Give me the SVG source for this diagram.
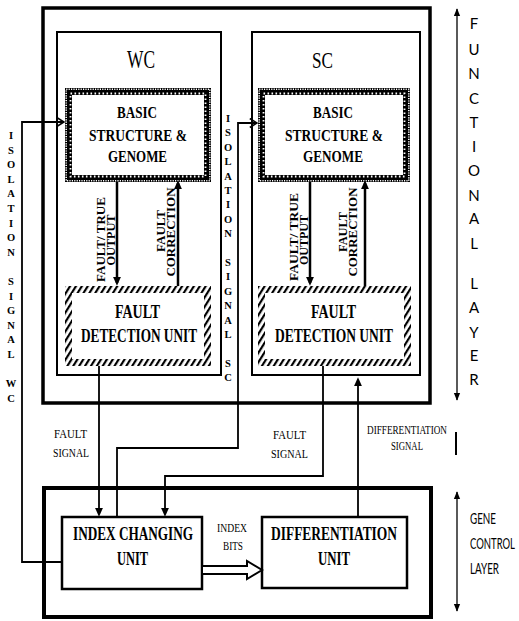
<svg xmlns="http://www.w3.org/2000/svg" width="519" height="621" viewBox="0 0 519 621">
<style>
.thick{fill:none;stroke:#000;stroke-width:3.5}
.cell{fill:none;stroke:#000;stroke-width:2}
.unit{fill:#fff;stroke:#000;stroke-width:2.5}
.ln{fill:none;stroke:#000;stroke-width:1.8}
.arr{fill:none;stroke:#000;stroke-width:2.5}
.thin{fill:none;stroke:#000;stroke-width:1.3}
.tb{font-family:"Liberation Serif","Times New Roman",serif;font-weight:bold;text-anchor:middle;fill:#000}
.tn{font-family:"Liberation Serif","Times New Roman",serif;text-anchor:middle;fill:#000}
.iso{font-family:"Liberation Serif","Times New Roman",serif;font-weight:bold;font-size:10.5px;text-anchor:middle;fill:#000}
.sans{font-family:Lato,"Open Sans",sans-serif;fill:#000}
</style>
<defs>
<marker id="ah" viewBox="0 0 10 10" markerWidth="9" markerHeight="9" refX="7" refY="5" orient="auto" markerUnits="userSpaceOnUse"><path d="M0,0.5 L10,5 L0,9.5 z" fill="#000"/></marker>
<marker id="oa" viewBox="0 0 10 12" markerWidth="9" markerHeight="11" refX="9" refY="6" orient="auto" markerUnits="userSpaceOnUse"><path d="M1,1 L9,6 L1,11" fill="none" stroke="#000" stroke-width="1.8"/></marker>
<marker id="sm" viewBox="0 0 10 10" markerWidth="8" markerHeight="9" refX="9" refY="5" orient="auto-start-reverse" markerUnits="userSpaceOnUse"><path d="M0,1 L10,5 L0,9 z" fill="#000"/></marker>
<pattern id="hatch" width="5" height="5" patternUnits="userSpaceOnUse" patternTransform="rotate(32)"><rect x="0" y="0" width="2.2" height="5" fill="#000"/></pattern>
</defs>

<g id="functional-layer"><rect class="thick" x="43" y="8" width="387" height="395"/></g>
<g id="gene-control-layer"><rect class="thick" x="44" y="488" width="387" height="129" style="stroke-width:4"/></g>

<g id="wc">
<rect class="cell" x="57" y="32" width="164" height="343"/>
<text class="tn" transform="translate(141,68) scale(1,1.4)" font-size="17.4" textLength="28" lengthAdjust="spacingAndGlyphs">WC</text>
</g>
<g id="sc">
<rect class="cell" x="252" y="32" width="168" height="343"/>
<text class="tn" transform="translate(322.5,68) scale(1,1.4)" font-size="17.2" textLength="21" lengthAdjust="spacingAndGlyphs">SC</text>
</g>

<g id="wc-basic">
<rect x="68.5" y="91.5" width="139" height="87" fill="#fff" stroke="#000" stroke-width="7"/>
<rect x="66.2" y="89.2" width="143.6" height="91.6" fill="none" stroke="#fff" stroke-width="1.6" stroke-dasharray="1.2 1.2"/>
<rect x="70.5" y="93.5" width="135" height="83" fill="none" stroke="#fff" stroke-width="1.8" stroke-dasharray="1.6 2.4"/>
<text class="tb" transform="translate(137,118) scale(1,1.3)" font-size="13.5" textLength="40" lengthAdjust="spacingAndGlyphs">BASIC</text>
<text class="tb" transform="translate(138,141) scale(1,1.3)" font-size="13.5" textLength="98" lengthAdjust="spacingAndGlyphs">STRUCTURE &amp;</text>
<text class="tb" transform="translate(137.5,162) scale(1,1.3)" font-size="13.5" textLength="59" lengthAdjust="spacingAndGlyphs">GENOME</text>
</g>
<g id="sc-basic">
<rect x="261.5" y="91.5" width="145" height="87" fill="#fff" stroke="#000" stroke-width="7"/>
<rect x="259.2" y="89.2" width="149.6" height="91.6" fill="none" stroke="#fff" stroke-width="1.6" stroke-dasharray="1.2 1.2"/>
<rect x="263.5" y="93.5" width="141" height="83" fill="none" stroke="#fff" stroke-width="1.8" stroke-dasharray="1.6 2.4"/>
<text class="tb" transform="translate(333,118) scale(1,1.3)" font-size="13.5" textLength="40" lengthAdjust="spacingAndGlyphs">BASIC</text>
<text class="tb" transform="translate(334,141) scale(1,1.3)" font-size="13.5" textLength="98" lengthAdjust="spacingAndGlyphs">STRUCTURE &amp;</text>
<text class="tb" transform="translate(333,162) scale(1,1.3)" font-size="13.5" textLength="60" lengthAdjust="spacingAndGlyphs">GENOME</text>
</g>

<g id="wc-fault-detection">
<path d="M65,286h146v80h-146z M72,293h132v66h-132z" fill="url(#hatch)" fill-rule="evenodd"/>
<text class="tb" transform="translate(137.5,318) scale(1,1.4)" font-size="13" textLength="45" lengthAdjust="spacingAndGlyphs">FAULT</text>
<text class="tb" transform="translate(139,342) scale(1,1.4)" font-size="13" textLength="116" lengthAdjust="spacingAndGlyphs">DETECTION UNIT</text>
</g>
<g id="sc-fault-detection">
<path d="M258,286h153v80h-153z M265,293h139v66h-139z" fill="url(#hatch)" fill-rule="evenodd"/>
<text class="tb" transform="translate(333.5,318) scale(1,1.4)" font-size="13" textLength="45" lengthAdjust="spacingAndGlyphs">FAULT</text>
<text class="tb" transform="translate(334,342) scale(1,1.4)" font-size="13" textLength="118" lengthAdjust="spacingAndGlyphs">DETECTION UNIT</text>
</g>

<g id="index-changing-unit">
<rect class="unit" x="62" y="517" width="140" height="72"/>
<text class="tb" transform="translate(133,540) scale(1,1.4)" font-size="13" textLength="120" lengthAdjust="spacingAndGlyphs">INDEX CHANGING</text>
<text class="tb" transform="translate(132.5,565) scale(1,1.4)" font-size="13" textLength="31" lengthAdjust="spacingAndGlyphs">UNIT</text>
</g>
<g id="differentiation-unit">
<rect class="unit" x="262" y="517" width="145" height="71"/>
<text class="tb" transform="translate(334,540) scale(1,1.4)" font-size="13" textLength="126" lengthAdjust="spacingAndGlyphs">DIFFERENTIATION</text>
<text class="tb" transform="translate(334,565) scale(1,1.4)" font-size="13" textLength="32" lengthAdjust="spacingAndGlyphs">UNIT</text>
</g>

<g id="connectors">
<line class="arr" x1="117" y1="182" x2="117" y2="283" marker-end="url(#ah)"/>
<line class="arr" x1="178" y1="286" x2="178" y2="183" marker-end="url(#ah)"/>
<line class="arr" x1="310" y1="182" x2="310" y2="283" marker-end="url(#ah)"/>
<line class="arr" x1="365" y1="286" x2="365" y2="183" marker-end="url(#ah)"/>
<polyline class="ln" points="62,562 22,562 22,122 64,122" marker-end="url(#oa)"/>
<polyline class="ln" points="117,517 117,448 238,448 238,123 257,123" marker-end="url(#oa)"/>
<line class="ln" x1="99" y1="366" x2="99" y2="514" marker-end="url(#ah)"/>
<polyline class="ln" points="323,366 323,476 165,476 165,514" marker-end="url(#ah)"/>
<line class="ln" x1="358" y1="517" x2="358" y2="380" marker-end="url(#ah)"/>
<polygon points="202,566 247,566 247,561 262,570 247,579 247,574 202,574" fill="#fff" stroke="#000" stroke-width="2"/>
<line class="thin" x1="457" y1="9" x2="457" y2="400" marker-start="url(#sm)" marker-end="url(#sm)"/>
<line class="thin" x1="457" y1="492" x2="457" y2="611" marker-start="url(#sm)" marker-end="url(#sm)"/>
<line x1="456" y1="432" x2="456" y2="455" stroke="#000" stroke-width="2"/>
</g>

<g id="labels">
<text class="tb" font-size="12" transform="translate(105,239.5) rotate(-90)" textLength="85" lengthAdjust="spacingAndGlyphs">FAULT/ TRUE</text>
<text class="tb" font-size="12" transform="translate(115,240) rotate(-90)" textLength="51" lengthAdjust="spacingAndGlyphs">OUTPUT</text>
<text class="tb" font-size="12" transform="translate(165,231) rotate(-90)" textLength="42" lengthAdjust="spacingAndGlyphs">FAULT</text>
<text class="tb" font-size="12" transform="translate(175,232) rotate(-90)" textLength="89" lengthAdjust="spacingAndGlyphs">CORRECTION</text>
<text class="tb" font-size="12" transform="translate(298,237) rotate(-90)" textLength="88" lengthAdjust="spacingAndGlyphs">FAULT/ TRUE</text>
<text class="tb" font-size="12" transform="translate(308,240) rotate(-90)" textLength="50" lengthAdjust="spacingAndGlyphs">OUTPUT</text>
<text class="tb" font-size="12" transform="translate(347,232) rotate(-90)" textLength="40" lengthAdjust="spacingAndGlyphs">FAULT</text>
<text class="tb" font-size="12" transform="translate(357,232) rotate(-90)" textLength="89" lengthAdjust="spacingAndGlyphs">CORRECTION</text>

<text class="iso"><tspan x="11" y="139">I</tspan><tspan x="11" y="153.6">S</tspan><tspan x="11" y="168.2">O</tspan><tspan x="11" y="182.8">L</tspan><tspan x="11" y="197.4">A</tspan><tspan x="11" y="212">T</tspan><tspan x="11" y="226.6">I</tspan><tspan x="11" y="241.2">O</tspan><tspan x="11" y="255.8">N</tspan><tspan x="11" y="285">S</tspan><tspan x="11" y="299.6">I</tspan><tspan x="11" y="314.2">G</tspan><tspan x="11" y="328.8">N</tspan><tspan x="11" y="343.4">A</tspan><tspan x="11" y="358">L</tspan><tspan x="11" y="387.2">W</tspan><tspan x="11" y="401.8">C</tspan></text>
<text class="iso"><tspan x="228" y="122">I</tspan><tspan x="228" y="136.4">S</tspan><tspan x="228" y="150.8">O</tspan><tspan x="228" y="165.2">L</tspan><tspan x="228" y="179.6">A</tspan><tspan x="228" y="194">T</tspan><tspan x="228" y="208.4">I</tspan><tspan x="228" y="222.8">O</tspan><tspan x="228" y="237.2">N</tspan><tspan x="228" y="266">S</tspan><tspan x="228" y="280.4">I</tspan><tspan x="228" y="294.8">G</tspan><tspan x="228" y="309.2">N</tspan><tspan x="228" y="323.6">A</tspan><tspan x="228" y="338">L</tspan><tspan x="228" y="366.8">S</tspan><tspan x="228" y="381.2">C</tspan></text>

<text class="tn" transform="translate(70.5,438) scale(1,1.35)" font-size="10" textLength="33" lengthAdjust="spacingAndGlyphs">FAULT</text>
<text class="tn" transform="translate(71,457) scale(1,1.35)" font-size="10" textLength="36" lengthAdjust="spacingAndGlyphs">SIGNAL</text>
<text class="tn" transform="translate(289.5,439) scale(1,1.35)" font-size="10" textLength="33" lengthAdjust="spacingAndGlyphs">FAULT</text>
<text class="tn" transform="translate(289.5,458) scale(1,1.35)" font-size="10" textLength="37" lengthAdjust="spacingAndGlyphs">SIGNAL</text>
<text class="tn" transform="translate(407,434) scale(1,1.35)" font-size="9" textLength="80" lengthAdjust="spacingAndGlyphs">DIFFERENTIATION</text>
<text class="tn" transform="translate(407,450) scale(1,1.35)" font-size="9" textLength="32" lengthAdjust="spacingAndGlyphs">SIGNAL</text>
<text class="tn" transform="translate(232,532) scale(1,1.3)" font-size="9.5" textLength="30" lengthAdjust="spacingAndGlyphs">INDEX</text>
<text class="tn" transform="translate(233,550) scale(1,1.3)" font-size="9.5" textLength="20" lengthAdjust="spacingAndGlyphs">BITS</text>

<text class="sans" font-size="15" text-anchor="middle"><tspan x="474" y="28.5">F</tspan><tspan x="474" y="54.5">U</tspan><tspan x="474" y="78.5">N</tspan><tspan x="474" y="103.5">C</tspan><tspan x="474" y="127.5">T</tspan><tspan x="474" y="151.5">I</tspan><tspan x="474" y="175.5">O</tspan><tspan x="474" y="200.5">N</tspan><tspan x="474" y="223.5">A</tspan><tspan x="474" y="248.5">L</tspan><tspan x="474" y="288.5">L</tspan><tspan x="474" y="312.5">A</tspan><tspan x="474" y="337.5">Y</tspan><tspan x="474" y="360.5">E</tspan><tspan x="474" y="384.5">R</tspan></text>
<text class="sans" transform="translate(470,524) scale(1,1.55)" font-size="9.5" textLength="26" lengthAdjust="spacingAndGlyphs">GENE</text>
<text class="sans" transform="translate(470,549) scale(1,1.55)" font-size="9.5" textLength="45" lengthAdjust="spacingAndGlyphs">CONTROL</text>
<text class="sans" transform="translate(470,574) scale(1,1.55)" font-size="9.5" textLength="29" lengthAdjust="spacingAndGlyphs">LAYER</text>
</g>
</svg>
